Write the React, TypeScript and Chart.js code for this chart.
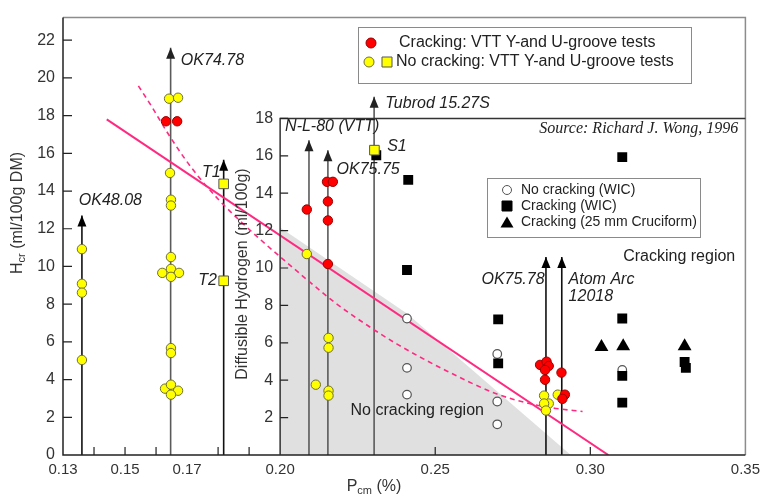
import React, { useEffect, useRef } from 'react';
import { Chart, registerables } from 'chart.js';

Chart.register(...registerables);

const FONT = '"Liberation Sans", Arial, sans-serif';
const SERIF = '"Liberation Serif", "Times New Roman", serif';

// ---- axis ticks ----
const xTickLabels = [0.13, 0.15, 0.17, 0.2, 0.25, 0.3, 0.35];
const xTickMarks = [0.14, 0.15, 0.16, 0.18, 0.19, 0.25, 0.3];
const hcrTicks = [0, 2, 4, 6, 8, 10, 12, 14, 16, 18, 20, 22];
const hdTicks = [2, 4, 6, 8, 10, 12, 14, 16, 18];

// ---- VTT Y- and U-groove tests (Hcr, ml/100g DM) ----
const vttCracking = [
  { x: 0.1632, y: 17.7 }, { x: 0.1668, y: 17.7 },
  { x: 0.2086, y: 13.02 },
  { x: 0.2151, y: 14.49 }, { x: 0.217, y: 14.49 }, { x: 0.2154, y: 13.45 },
  { x: 0.2154, y: 12.44 }, { x: 0.2154, y: 10.13 },
  { x: 0.2838, y: 4.78 }, { x: 0.2859, y: 4.95 }, { x: 0.2866, y: 4.72 },
  { x: 0.2854, y: 4.51 }, { x: 0.2854, y: 3.99 },
  { x: 0.2907, y: 4.37 }, { x: 0.2918, y: 3.2 }, { x: 0.291, y: 2.98 },
];
const vttNoCrackingCircles = [
  { x: 0.1361, y: 10.92 }, { x: 0.1361, y: 9.08 }, { x: 0.1361, y: 8.61 }, { x: 0.1361, y: 5.04 },
  { x: 0.1642, y: 18.9 }, { x: 0.1671, y: 18.95 }, { x: 0.1645, y: 14.96 },
  { x: 0.1648, y: 13.54 }, { x: 0.1648, y: 13.23 }, { x: 0.1648, y: 10.5 },
  { x: 0.162, y: 9.66 }, { x: 0.1648, y: 9.87 }, { x: 0.1674, y: 9.66 }, { x: 0.1648, y: 9.45 },
  { x: 0.1648, y: 5.67 }, { x: 0.1648, y: 5.41 },
  { x: 0.1629, y: 3.52 }, { x: 0.1648, y: 3.73 }, { x: 0.1671, y: 3.41 }, { x: 0.1648, y: 3.2 },
  { x: 0.2086, y: 10.66 }, { x: 0.2115, y: 3.73 },
  { x: 0.2156, y: 6.21 }, { x: 0.2156, y: 5.69 }, { x: 0.2156, y: 3.41 }, { x: 0.2156, y: 3.15 },
  { x: 0.2851, y: 3.15 }, { x: 0.2866, y: 2.73 }, { x: 0.2851, y: 2.73 }, { x: 0.2857, y: 2.36 },
  { x: 0.2895, y: 3.2 },
];
const vttNoCrackingSquares = [
  { x: 0.1818, y: 14.38 }, { x: 0.1818, y: 9.24 }, { x: 0.2304, y: 16.17 },
];

// ---- WIC / cruciform tests (diffusible hydrogen, ml/100g) ----
const wicNoCracking = [
  { x: 0.2409, y: 7.3 }, { x: 0.2409, y: 4.66 }, { x: 0.2409, y: 3.23 },
  { x: 0.27, y: 5.4 }, { x: 0.27, y: 2.86 }, { x: 0.27, y: 1.64 },
  { x: 0.3103, y: 4.55 },
];
const wicCracking = [
  { x: 0.231, y: 16.03 }, { x: 0.2413, y: 14.71 }, { x: 0.2409, y: 9.89 },
  { x: 0.2703, y: 7.25 }, { x: 0.2703, y: 4.9 },
  { x: 0.3103, y: 15.93 }, { x: 0.3103, y: 7.3 }, { x: 0.3103, y: 4.23 }, { x: 0.3103, y: 2.8 },
  { x: 0.3304, y: 4.97 }, { x: 0.3308, y: 4.66 },
];
const cruciformCracking = [
  { x: 0.3036, y: 5.77 }, { x: 0.3106, y: 5.82 }, { x: 0.3304, y: 5.82 },
];

// ---- trend lines / regions ----
const trendSolid = [{ x: 0.1441, y: 17.8 }, { x: 0.3058, y: 0 }];
const trendDashed = [
  { x: 0.1543, y: 19.58 }, { x: 0.1588, y: 18.43 }, { x: 0.1632, y: 17.22 },
  { x: 0.1696, y: 15.64 }, { x: 0.1748, y: 14.54 }, { x: 0.1802, y: 13.54 },
  { x: 0.1866, y: 12.49 }, { x: 0.1939, y: 11.39 }, { x: 0.2016, y: 10.29 },
  { x: 0.2099, y: 9.13 }, { x: 0.2185, y: 7.98 }, { x: 0.2281, y: 6.88 },
  { x: 0.2377, y: 5.88 }, { x: 0.2537, y: 4.46 }, { x: 0.2697, y: 3.25 },
  { x: 0.2803, y: 2.73 }, { x: 0.2889, y: 2.47 }, { x: 0.2975, y: 2.31 },
];
const noCrackingRegion = [{ x: 0.2, y: 12.17 }, { x: 0.2409, y: 7.57 }, { x: 0.2937, y: 0 }];

// ---- electrodes (vertical arrows) ----
const electrodeNames = ['OK48.08', 'OK74.78', 'T1/T2', 'N-L-80 (VTT)', 'OK75.75', 'Tubrod 15.27S', 'OK75.78', 'Atom Arc 12018'];
const electrodeX = [0.1361, 0.1647, 0.1818, 0.2093, 0.2154, 0.2303, 0.2857, 0.2908];
const electrodeTop = [12.7, 21.6, 15.66, 16.7, 16.17, 19.0, 10.5, 10.5];
const electrodeColors = ['#111', '#5a5a5a', '#111', '#5a5a5a', '#5a5a5a', '#5a5a5a', '#111', '#111'];

// ---- text annotations (anchor in data units of Hcr axis) ----
const annotations = [
  { text: 'OK74.78', x: 0.168, y: 20.94, kind: 'tag' },
  { text: 'OK48.08', x: 0.1351, y: 13.49, kind: 'tag' },
  { text: 'T1', x: 0.1748, y: 14.96, kind: 'tag' },
  { text: 'T2', x: 0.1796, y: 9.24, kind: 'tagR' },
  { text: 'Tubrod 15.27S', x: 0.2339, y: 18.64, kind: 'tag' },
  { text: 'N-L-80 (VTT)', x: 0.2016, y: 17.43, kind: 'tag' },
  { text: 'S1', x: 0.2345, y: 16.38, kind: 'tag' },
  { text: 'OK75.75', x: 0.2182, y: 15.12, kind: 'tag' },
  { text: 'OK75.78', x: 0.2649, y: 9.29, kind: 'tag' },
  { text: 'Atom Arc', x: 0.293, y: 9.29, kind: 'tag' },
  { text: '12018', x: 0.293, y: 8.4, kind: 'tag' },
  { text: 'Cracking region', x: 0.3106, y: 10.55, kind: 'region' },
  { text: 'No cracking region', x: 0.2227, y: 2.36, kind: 'region' },
  { text: 'Source: Richard J. Wong, 1996', x: 0.3477, y: 17.32, kind: 'source' },
];

const legendTop = ['Cracking: VTT Y-and U-groove tests', 'No cracking: VTT Y-and U-groove tests'];
const legendInset = ['No cracking (WIC)', 'Cracking (WIC)', 'Cracking (25 mm Cruciform)'];

const RED = '#ff0000';
const RED_EDGE = '#9a0000';
const YEL = '#ffff00';
const YEL_EDGE = '#6f6f3a';
const PINK = '#ff2a80';

function circle(ctx: CanvasRenderingContext2D, x: number, y: number, r: number, fill: string, stroke: string) {
  ctx.beginPath();
  ctx.arc(x, y, r, 0, Math.PI * 2);
  ctx.fillStyle = fill;
  ctx.fill();
  ctx.lineWidth = 1;
  ctx.strokeStyle = stroke;
  ctx.stroke();
}
function square(ctx: CanvasRenderingContext2D, x: number, y: number, s: number, fill: string, stroke: string) {
  ctx.beginPath();
  ctx.rect(x - s / 2, y - s / 2, s, s);
  ctx.fillStyle = fill;
  ctx.fill();
  ctx.lineWidth = 1;
  ctx.strokeStyle = stroke;
  ctx.stroke();
}
function tri(ctx: CanvasRenderingContext2D, x: number, y: number, w: number, h: number, fill: string) {
  ctx.beginPath();
  ctx.moveTo(x, y - h / 2);
  ctx.lineTo(x + w / 2, y + h / 2);
  ctx.lineTo(x - w / 2, y + h / 2);
  ctx.closePath();
  ctx.fillStyle = fill;
  ctx.fill();
}

function subText(ctx: CanvasRenderingContext2D, parts: [string, boolean][], cx: number, cy: number, rotate: boolean) {
  const big = `16px ${FONT}`;
  const small = `11px ${FONT}`;
  let total = 0;
  parts.forEach(([t, sub]) => {
    ctx.font = sub ? small : big;
    total += ctx.measureText(t).width;
  });
  ctx.save();
  ctx.translate(cx, cy);
  if (rotate) ctx.rotate(-Math.PI / 2);
  ctx.fillStyle = '#333';
  ctx.textBaseline = 'middle';
  ctx.textAlign = 'left';
  let x = -total / 2;
  parts.forEach(([t, sub]) => {
    ctx.font = sub ? small : big;
    ctx.fillText(t, x, sub ? 4 : 0);
    x += ctx.measureText(t).width;
  });
  ctx.restore();
}

const overlay = {
  id: 'overlay',
  afterDatasetsDraw(chart: any) {
    const { ctx, chartArea: ca, scales } = chart;
    const xs = scales.x;
    const ys = scales.y;
    const y2 = scales.y2;
    ctx.save();
    // outer frame
    ctx.lineWidth = 1.5;
    ctx.strokeStyle = '#8c8c8c';
    ctx.beginPath();
    ctx.moveTo(ca.left, ca.top);
    ctx.lineTo(ca.right, ca.top);
    ctx.lineTo(ca.right, ca.bottom);
    ctx.stroke();
    ctx.strokeStyle = '#222';
    ctx.beginPath();
    ctx.moveTo(ca.left, ca.top);
    ctx.lineTo(ca.left, ca.bottom);
    ctx.lineTo(ca.right, ca.bottom);
    ctx.stroke();
    // inset frame
    const ix = xs.getPixelForValue(0.2);
    const iTop = y2.getPixelForValue(18);
    ctx.strokeStyle = '#333';
    ctx.beginPath();
    ctx.moveTo(ix, ca.bottom);
    ctx.lineTo(ix, iTop);
    ctx.lineTo(ca.right, iTop);
    ctx.stroke();
    // tick marks (inward)
    ctx.lineWidth = 1.2;
    ctx.strokeStyle = '#222';
    ctx.beginPath();
    hcrTicks.forEach((v) => {
      if (v === 0) return;
      const py = ys.getPixelForValue(v);
      ctx.moveTo(ca.left, py);
      ctx.lineTo(ca.left + 9, py);
    });
    hdTicks.forEach((v) => {
      const py = y2.getPixelForValue(v);
      ctx.moveTo(ix, py);
      ctx.lineTo(ix + 8, py);
    });
    xTickMarks.forEach((v) => {
      const px = xs.getPixelForValue(v);
      ctx.moveTo(px, ca.bottom);
      ctx.lineTo(px, ca.bottom - 8);
    });
    ctx.stroke();
    // inset tick labels
    ctx.font = `16px ${FONT}`;
    ctx.fillStyle = '#333';
    ctx.textAlign = 'right';
    ctx.textBaseline = 'middle';
    hdTicks.forEach((v) => ctx.fillText(String(v), ix - 7, y2.getPixelForValue(v)));
    // arrowheads
    electrodeX.forEach((xv, i) => {
      const px = xs.getPixelForValue(xv);
      const py = ys.getPixelForValue(electrodeTop[i]);
      ctx.fillStyle = electrodeColors[i] === '#111' ? '#000' : '#222';
      ctx.beginPath();
      ctx.moveTo(px, py);
      ctx.lineTo(px - 4.5, py + 11);
      ctx.lineTo(px + 4.5, py + 11);
      ctx.closePath();
      ctx.fill();
    });
    // annotations
    annotations.forEach((a) => {
      const px = xs.getPixelForValue(a.x);
      const py = ys.getPixelForValue(a.y);
      ctx.textBaseline = 'middle';
      if (a.kind === 'source') {
        ctx.font = `italic 16px ${SERIF}`;
        ctx.textAlign = 'right';
        ctx.fillStyle = '#222';
      } else if (a.kind === 'region') {
        ctx.font = `16px ${FONT}`;
        ctx.textAlign = 'left';
        ctx.fillStyle = '#222';
      } else {
        ctx.font = `italic 16px ${FONT}`;
        ctx.textAlign = a.kind === 'tagR' ? 'right' : 'left';
        ctx.fillStyle = '#222';
      }
      ctx.fillText(a.text, px, py);
    });
    // axis titles
    subText(ctx, [['H', false], ['cr', true], [' (ml/100g DM)', false]], 18, 213, true);
    ctx.save();
    ctx.translate(243, 274);
    ctx.rotate(-Math.PI / 2);
    ctx.font = `16px ${FONT}`;
    ctx.fillStyle = '#333';
    ctx.textAlign = 'center';
    ctx.textBaseline = 'middle';
    ctx.fillText('Diffusible Hydrogen (ml/100g)', 0, 0);
    ctx.restore();
    subText(ctx, [['P', false], ['cm', true], [' (%)', false]], 374, 487, false);

    // top legend
    ctx.lineWidth = 1;
    ctx.strokeStyle = '#8a8a8a';
    ctx.fillStyle = '#fff';
    ctx.fillRect(358.5, 27.5, 333, 56);
    ctx.strokeRect(358.5, 27.5, 333, 56);
    circle(ctx, 371, 43, 5, RED, RED_EDGE);
    circle(ctx, 369, 62, 5, YEL, YEL_EDGE);
    square(ctx, 387, 62, 10, YEL, '#555');
    ctx.font = `16px ${FONT}`;
    ctx.fillStyle = '#222';
    ctx.textAlign = 'left';
    ctx.textBaseline = 'middle';
    ctx.fillText(legendTop[0], 399, 43);
    ctx.fillText(legendTop[1], 396, 62);

    // inset legend
    ctx.fillStyle = '#fff';
    ctx.strokeStyle = '#8a8a8a';
    ctx.fillRect(487.5, 178.5, 213, 59);
    ctx.strokeRect(487.5, 178.5, 213, 59);
    circle(ctx, 507, 190, 4.5, '#fff', '#555');
    square(ctx, 507, 206, 10, '#000', '#000');
    tri(ctx, 507, 222, 13, 11, '#000');
    ctx.font = `14px ${FONT}`;
    ctx.fillStyle = '#222';
    ctx.textAlign = 'left';
    ctx.fillText(legendInset[0], 521, 190);
    ctx.fillText(legendInset[1], 521, 206);
    ctx.fillText(legendInset[2], 521, 222);
    ctx.restore();
  },
};

export default function App() {
  const ref = useRef<HTMLCanvasElement | null>(null);
  useEffect(() => {
    if (!ref.current) return;
    const arrowSets = electrodeX.map((xv, i) => ({
      type: 'line' as const,
      label: electrodeNames[i],
      data: [{ x: xv, y: 0 }, { x: xv, y: electrodeTop[i] }],
      borderColor: electrodeColors[i],
      borderWidth: 1.6,
      pointRadius: 0,
      fill: false,
      yAxisID: 'y',
      order: 8,
    }));
    const chart = new Chart(ref.current, {
      type: 'scatter',
      data: {
        datasets: [
          {
            type: 'scatter', label: 'yellowSq', data: vttNoCrackingSquares, yAxisID: 'y',
            pointStyle: 'rect', pointRadius: 6.8, backgroundColor: YEL, borderColor: '#555', borderWidth: 1, order: 0,
          },
          {
            type: 'scatter', label: 'red', data: vttCracking, yAxisID: 'y',
            pointRadius: 4.7, backgroundColor: RED, borderColor: RED_EDGE, borderWidth: 1, order: 1,
          },
          {
            type: 'scatter', label: 'yellow', data: vttNoCrackingCircles, yAxisID: 'y',
            pointRadius: 4.7, backgroundColor: YEL, borderColor: YEL_EDGE, borderWidth: 1, order: 2,
          },
          {
            type: 'scatter', label: 'wicCrack', data: wicCracking, yAxisID: 'y2',
            pointStyle: 'rect', pointRadius: 7, backgroundColor: '#000', borderColor: '#000', borderWidth: 0, order: 3,
          },
          {
            type: 'scatter', label: 'wicNo', data: wicNoCracking, yAxisID: 'y2',
            pointRadius: 4.3, backgroundColor: '#fff', borderColor: '#555', borderWidth: 1.2, order: 4,
          },
          {
            type: 'scatter', label: 'cruci', data: cruciformCracking, yAxisID: 'y2',
            pointStyle: 'triangle', pointRadius: 8, backgroundColor: '#000', borderColor: '#000', borderWidth: 0, order: 4,
          },
          {
            type: 'line', label: 'solid', data: trendSolid, yAxisID: 'y',
            borderColor: PINK, borderWidth: 2, pointRadius: 0, fill: false, order: 6,
          },
          {
            type: 'line', label: 'dashed', data: trendDashed, yAxisID: 'y',
            borderColor: PINK, borderWidth: 1.6, borderDash: [5, 4], pointRadius: 0, fill: false,
            cubicInterpolationMode: 'monotone', order: 6,
          },
          ...arrowSets,
          {
            type: 'line', label: 'region', data: noCrackingRegion, yAxisID: 'y2',
            borderColor: 'rgba(0,0,0,0)', borderWidth: 0, pointRadius: 0,
            fill: 'origin', backgroundColor: '#e0e0e0', order: 10,
          },
        ] as any,
      },
      options: {
        responsive: false,
        animation: false,
        events: [],
        layout: { padding: { left: 0, top: 13, right: 15, bottom: 0 }, autoPadding: false },
        plugins: { legend: { display: false }, tooltip: { enabled: false } },
        scales: {
          x: {
            type: 'linear',
            min: 0.13,
            max: 0.35,
            afterBuildTicks: (s: any) => { s.ticks = xTickLabels.map((v) => ({ value: v })); },
            afterFit: (s: any) => { s.height = 40; },
            ticks: {
              callback: (v: any) => Number(v).toFixed(2),
              font: { family: FONT, size: 15 },
              color: '#333',
              padding: 6,
              maxRotation: 0,
              autoSkip: false,
            },
            grid: { display: false, drawTicks: false },
            border: { display: false },
          },
          y: {
            type: 'linear',
            position: 'left',
            min: 0,
            max: 23.2,
            afterBuildTicks: (s: any) => { s.ticks = hcrTicks.map((v) => ({ value: v })); },
            afterFit: (s: any) => { s.width = 63; },
            ticks: { font: { family: FONT, size: 16 }, color: '#333', padding: 8, autoSkip: false },
            grid: { display: false, drawTicks: false },
            border: { display: false },
          },
          y2: {
            type: 'linear',
            position: 'right',
            display: false,
            min: 0,
            max: 23.39,
          },
        },
      } as any,
      plugins: [overlay],
    });
    return () => chart.destroy();
  }, []);
  return (
    <div style={{ position: 'absolute', left: 0, top: 0, width: 766, height: 495, background: '#fff' }}>
      <canvas ref={ref} width={766} height={495} style={{ display: 'block' }} />
    </div>
  );
}
